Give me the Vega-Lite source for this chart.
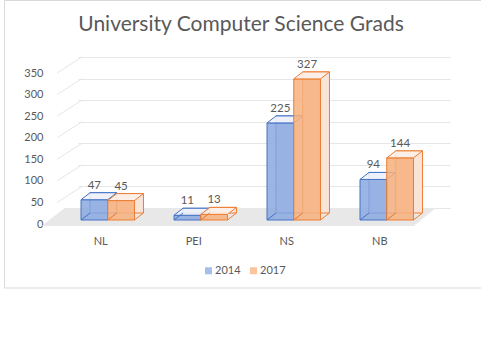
{
  "$schema": "https://vega.github.io/schema/vega-lite/v6.json",
  "width": 372,
  "height": 151,
  "autosize": "none",
  "padding": {"left": 78, "top": 57, "right": 31, "bottom": 149},
  "background": "white",
  "config": {"view": {"stroke": null}, "font": "Lato"},
  "title": {"text": "University Computer Science Grads", "anchor": "middle", "frame": "group", "dx": -23, "offset": -36.5, "font": "Lato", "fontSize": 21, "fontWeight": "normal", "color": "#595959"},
  "data": {"values": [
    {"prov": "NL", "year": "2014", "value": 47},
    {"prov": "NL", "year": "2017", "value": 45},
    {"prov": "PEI", "year": "2014", "value": 11},
    {"prov": "PEI", "year": "2017", "value": 13},
    {"prov": "NS", "year": "2014", "value": 225},
    {"prov": "NS", "year": "2017", "value": 327},
    {"prov": "NB", "year": "2014", "value": 94},
    {"prov": "NB", "year": "2017", "value": 144}
  ]},
  "encoding": {
    "y": {"field": "value", "type": "quantitative", "scale": {"domain": [0, 350], "nice": false},
      "axis": {"title": null, "values": [0, 50, 100, 150, 200, 250, 300, 350], "domain": false, "ticks": false, "grid": true, "gridColor": "#e6e6e6", "gridWidth": 1, "labelPadding": 35, "labelOffset": 16, "labelFont": "Lato", "labelFontSize": 11, "labelColor": "#595959"}}
  },
  "resolve": {"scale": {"x": "independent", "xOffset": "independent"}},
  "layer": [
    {
      "transform": [{"filter": "datum.prov == 'NL' && datum.year == '2014'"}],
      "mark": {"type": "point", "shape": "M-80.5,-207.5L398.5,-207.5L398.5,80L-80.5,80Z", "size": 4, "filled": false, "stroke": "#d9d9d9", "strokeWidth": 1, "opacity": 1},
      "encoding": {
        "x": {"field": "prov", "type": "nominal", "sort": ["NL", "PEI", "NS", "NB"], "bandPosition": 0, "scale": {"domain": ["NL", "PEI", "NS", "NB"], "paddingInner": 0.425, "paddingOuter": 0.2125, "align": 0.076}, "axis": null},
        "y": {"datum": 0}
      }
    },
    {
      "data": {"values": [{"grid": 0}, {"grid": 50}, {"grid": 100}, {"grid": 150}, {"grid": 200}, {"grid": 250}, {"grid": 300}, {"grid": 350}]},
      "mark": {"type": "point", "shape": "M-28,16L-3,0", "size": 4, "filled": false, "stroke": "#e6e6e6", "strokeWidth": 1, "opacity": 1},
      "encoding": {
        "x": {"datum": "NL", "type": "nominal", "bandPosition": 0, "scale": {"domain": ["NL", "PEI", "NS", "NB"], "paddingInner": 0.425, "paddingOuter": 0.2125, "align": 0.076}, "axis": null},
        "y": {"field": "grid", "type": "quantitative"}
      }
    },
    {
      "transform": [{"filter": "datum.prov == 'NL' && datum.year == '2014'"}],
      "mark": {"type": "point", "shape": "M-16.35,0L354.65,0L332.65,18L-39.35,18Z", "size": 4, "filled": true, "fill": "#e8e8e8", "strokeWidth": 0, "opacity": 1},
      "encoding": {
        "x": {"field": "prov", "type": "nominal", "sort": ["NL", "PEI", "NS", "NB"], "bandPosition": 0, "scale": {"domain": ["NL", "PEI", "NS", "NB"], "paddingInner": 0.425, "paddingOuter": 0.2125, "align": 0.076}, "axis": null},
        "xOffset": {"field": "year", "type": "nominal", "scale": {"domain": ["2014", "2017"], "paddingInner": 0, "paddingOuter": 0}},
        "y": {"datum": 0}
      }
    },
    {
      "transform": [{"filter": "datum.year == '2014'"}],
      "mark": {"type": "bar", "yOffset": 5, "y2Offset": 5, "fill": "#e6ecf7", "stroke": "#4472c4", "strokeWidth": 1},
      "encoding": {
        "x": {"field": "prov", "type": "nominal", "sort": ["NL", "PEI", "NS", "NB"], "scale": {"domain": ["NL", "PEI", "NS", "NB"], "paddingInner": 0.425, "paddingOuter": 0.2125, "align": 0.3038}, "axis": null},
        "xOffset": {"field": "year", "type": "nominal", "scale": {"domain": ["2014", "2017"], "paddingInner": 0, "paddingOuter": 0}}
      }
    },
    {
      "transform": [{"filter": "datum.year == '2014'"}],
      "encoding": {
        "x": {"field": "prov", "type": "nominal", "sort": ["NL", "PEI", "NS", "NB"], "scale": {"domain": ["NL", "PEI", "NS", "NB"], "paddingInner": 0.425, "paddingOuter": 0.2125, "align": 0.076},
          "axis": {"title": null, "domain": false, "ticks": false, "grid": false, "labelAngle": 0, "labelPadding": 27, "labelOffset": -7, "labelFont": "Lato", "labelFontSize": 11, "labelColor": "#595959"}},
        "xOffset": {"field": "year", "type": "nominal", "scale": {"domain": ["2014", "2017"], "paddingInner": 0, "paddingOuter": 0}}
      },
      "layer": [
        {"mark": {"type": "bar", "yOffset": 12, "y2Offset": 12, "stroke": "#4472c4", "strokeWidth": 1, "fillOpacity": 0.85},
          "encoding": {"color": {"field": "year", "type": "nominal", "scale": {"domain": ["2014", "2017"], "range": ["#8aa8e0", "#f7b07e"]},
            "legend": {"orient": "none", "legendX": 125, "legendY": 208, "direction": "horizontal", "title": null, "symbolType": "square", "symbolSize": 49, "symbolOpacity": 0.75, "symbolStrokeWidth": 0, "labelFont": "Lato", "labelFontSize": 11, "labelColor": "#595959", "columnPadding": 7, "labelOffset": 1}}}},
        {"mark": {"type": "point", "shape": "M-13.35,0L13.35,0L22.35,-7L-4.35,-7Z", "size": 4, "filled": true, "fill": "#eef2fa", "fillOpacity": 0.9, "stroke": "#4472c4", "strokeWidth": 1, "opacity": 1, "yOffset": 12},
          "encoding": {"x": {"field": "prov", "type": "nominal", "sort": ["NL", "PEI", "NS", "NB"], "bandPosition": 0}}},
        {"mark": {"type": "point", "shape": "M-13.35,0L-4.35,-7M13.35,0L22.35,-7", "size": 4, "filled": false, "stroke": "#4472c4", "strokeWidth": 1, "opacity": 1, "yOffset": 12},
          "encoding": {"x": {"field": "prov", "type": "nominal", "sort": ["NL", "PEI", "NS", "NB"], "bandPosition": 0}, "y": {"datum": 0}}},
        {"mark": {"type": "text", "baseline": "middle", "align": "center", "yOffset": -2, "font": "Lato", "fontSize": 11.5, "color": "#595959"},
          "encoding": {"text": {"field": "value", "type": "quantitative"}}}
      ]
    },
    {
      "transform": [{"filter": "datum.year == '2017'"}],
      "mark": {"type": "bar", "yOffset": 5, "y2Offset": 5, "fill": "#f9e4d9", "stroke": "#ed7d31", "strokeWidth": 1},
      "encoding": {
        "x": {"field": "prov", "type": "nominal", "sort": ["NL", "PEI", "NS", "NB"], "scale": {"domain": ["NL", "PEI", "NS", "NB"], "paddingInner": 0.425, "paddingOuter": 0.2125, "align": 0.3038}, "axis": null},
        "xOffset": {"field": "year", "type": "nominal", "scale": {"domain": ["2014", "2017"], "paddingInner": 0, "paddingOuter": 0}}
      }
    },
    {
      "transform": [{"filter": "datum.year == '2017'"}],
      "encoding": {
        "x": {"field": "prov", "type": "nominal", "sort": ["NL", "PEI", "NS", "NB"], "scale": {"domain": ["NL", "PEI", "NS", "NB"], "paddingInner": 0.425, "paddingOuter": 0.2125, "align": 0.076}, "axis": null},
        "xOffset": {"field": "year", "type": "nominal", "scale": {"domain": ["2014", "2017"], "paddingInner": 0, "paddingOuter": 0}}
      },
      "layer": [
        {"mark": {"type": "bar", "yOffset": 12, "y2Offset": 12, "stroke": "#ed7d31", "strokeWidth": 1, "fillOpacity": 0.85},
          "encoding": {"color": {"field": "year", "type": "nominal", "scale": {"domain": ["2014", "2017"], "range": ["#8aa8e0", "#f7b07e"]}, "legend": null}}},
        {"mark": {"type": "point", "shape": "M-13.35,0L13.35,0L22.35,-7L-4.35,-7Z", "size": 4, "filled": true, "fill": "#fcefe8", "fillOpacity": 0.9, "stroke": "#ed7d31", "strokeWidth": 1, "opacity": 1, "yOffset": 12},
          "encoding": {"x": {"field": "prov", "type": "nominal", "sort": ["NL", "PEI", "NS", "NB"], "bandPosition": 0}}},
        {"mark": {"type": "point", "shape": "M-13.35,0L-4.35,-7M13.35,0L22.35,-7", "size": 4, "filled": false, "stroke": "#ed7d31", "strokeWidth": 1, "opacity": 1, "yOffset": 12},
          "encoding": {"x": {"field": "prov", "type": "nominal", "sort": ["NL", "PEI", "NS", "NB"], "bandPosition": 0}, "y": {"datum": 0}}},
        {"mark": {"type": "text", "baseline": "middle", "align": "center", "yOffset": -2, "font": "Lato", "fontSize": 11.5, "color": "#595959"},
          "encoding": {"text": {"field": "value", "type": "quantitative"}}}
      ]
    }
  ]
}
